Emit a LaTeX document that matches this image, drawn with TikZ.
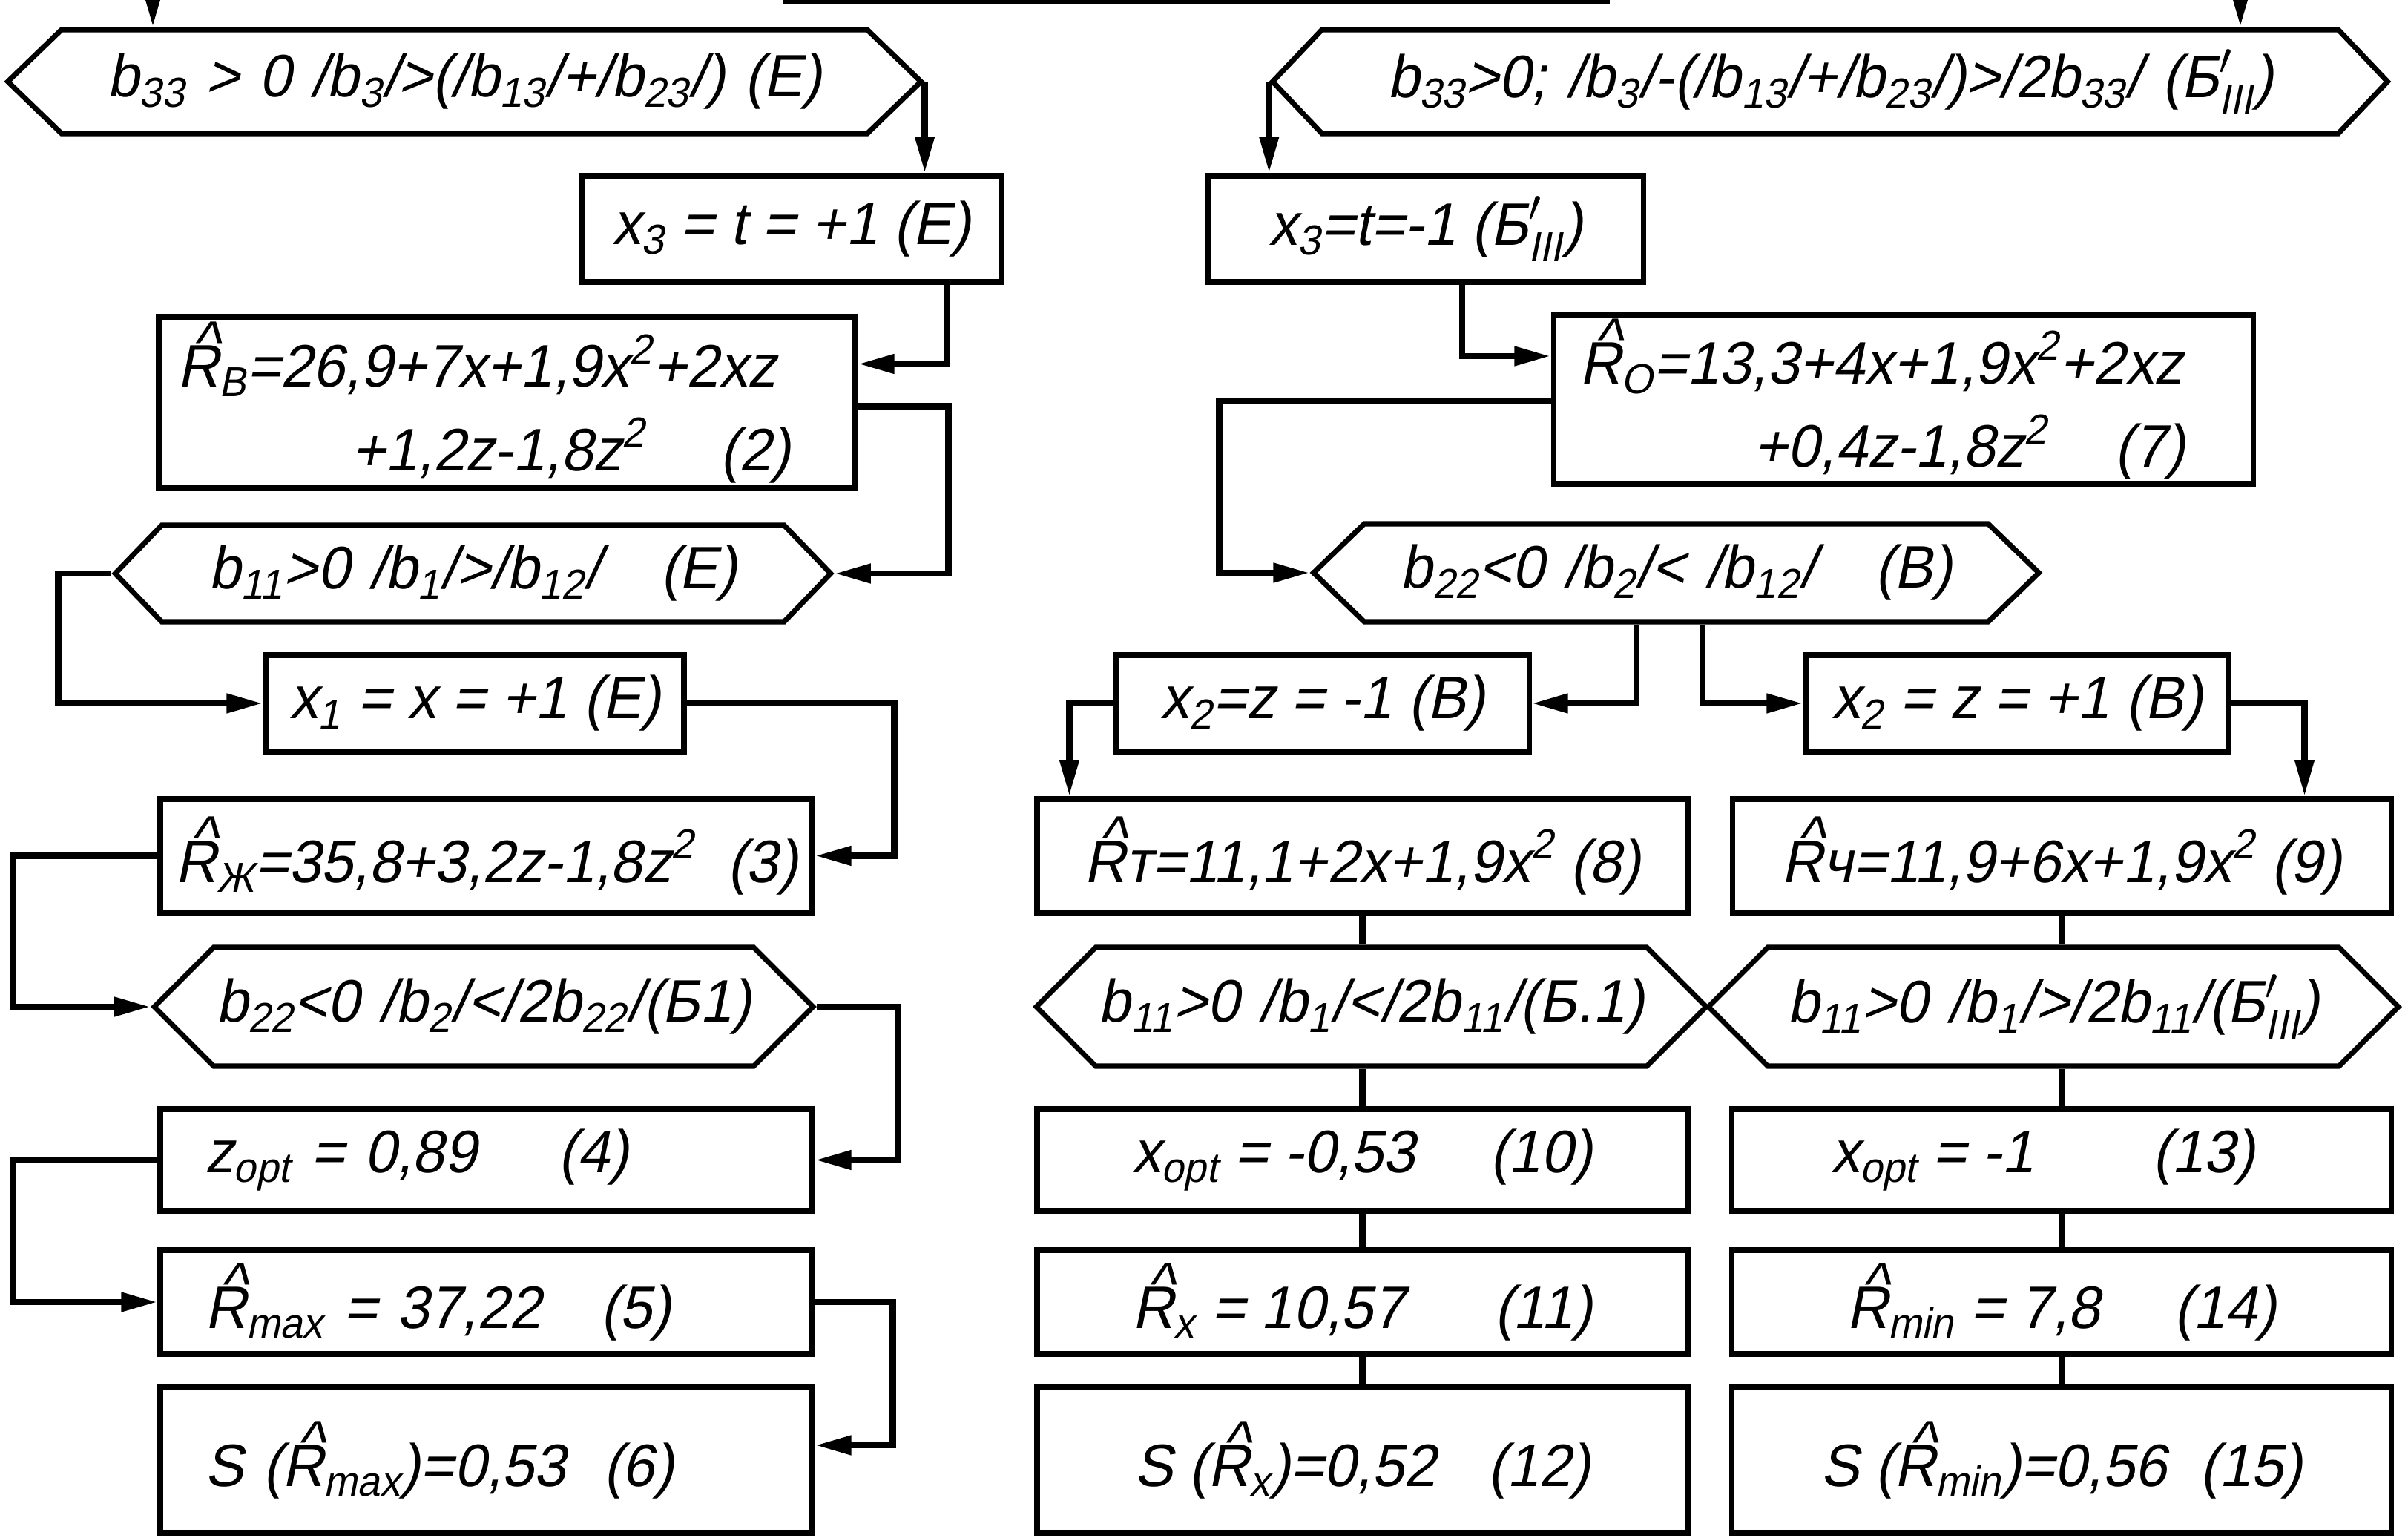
\documentclass[tikz,border=0pt]{standalone}
\usepackage{amsmath}
\usepackage{fontspec}
\setmainfont{Liberation Sans}[ItalicFont={Liberation Sans}, ItalicFeatures={FakeSlant=0.2, FakeStretch=0.96}]
\usetikzlibrary{arrows.meta,shapes.symbols}
\newcommand{\Rh}{\leavevmode\rlap{\hspace{0.24em}\raisebox{0.40em}{\textasciicircum}}R}
\newcommand{\bIII}{Б$^{\prime}_{\text{III}}$}

\begin{document}
\begin{tikzpicture}[
  blk/.style={rectangle, draw, line width=2pt, inner sep=0pt, align=center, font=\fontsize{23}{28}\selectfont\itshape},
  hex/.style={signal, signal to=east and west, draw, line width=2pt, inner sep=0pt, align=center, font=\fontsize{23}{28}\selectfont\itshape},
  arr/.style={-{Triangle[length=14pt,width=7pt]}, line width=2.5pt},
  lnk/.style={line width=2.3pt}
]
\useasboundingbox (0,0) rectangle (32.46,-20.73);
\coordinate (inl) at (2.06,0);
\coordinate (inr) at (30.20,0);
\coordinate (topa) at (10.56,-0.02);
\coordinate (topb) at (21.70,-0.02);

\node[hex, text width=10.86cm, minimum height=1.40cm, signal pointer angle=88] (b33l) at (6.26,-1.10) {\makebox[10.86cm]{b\textsubscript{33} > 0 /b\textsubscript{3}/>(/b\textsubscript{13}/+/b\textsubscript{23}/) (Е)}};
\node[blk, minimum width=5.66cm, minimum height=1.43cm] (x3p) at (10.67,-3.085) {x\textsubscript{3} = t = +1 (Е)};
\node[blk, align=left, text width=8.89cm, minimum width=9.39cm, minimum height=2.31cm] (rv) at (6.835,-5.425) {\Rh\textsubscript{В}=26,9+7x+1,9x\textsuperscript{2}+2xz\\[4pt]\hspace*{2.35cm}+1,2z-1,8z\textsuperscript{2}\hspace{1cm}(2)};
\node[hex, text width=8.39cm, minimum height=1.30cm, signal pointer angle=92] (b11l) at (6.375,-7.73) {\makebox[8.39cm]{b\textsubscript{11}>0 /b\textsubscript{1}/>/b\textsubscript{12}/\hspace{0.8cm}(Е)}};
\node[blk, minimum width=5.64cm, minimum height=1.30cm] (x1p) at (6.40,-9.48) {x\textsubscript{1} = x = +1 (Е)};
\node[blk, minimum width=8.79cm, minimum height=1.53cm] (rzh) at (6.555,-11.535) {\Rh\textsubscript{Ж}=35,8+3,2z-1,8z\textsuperscript{2} \ (3)};
\node[hex, text width=7.28cm, minimum height=1.60cm, signal pointer angle=90] (b22l) at (6.52,-13.57) {\makebox[7.28cm]{b\textsubscript{22}<0 /b\textsubscript{2}/</2b\textsubscript{22}/(Б1)}};
\node[blk, align=left, text width=7.59cm, minimum width=8.79cm, minimum height=1.37cm] (zopt) at (6.555,-15.635) {z\textsubscript{opt} = 0,89\hspace{1.1cm}(4)};
\node[blk, align=left, text width=7.59cm, minimum width=8.79cm, minimum height=1.40cm] (rmax) at (6.555,-17.55) {\Rh\textsubscript{max} = 37,22\hspace{0.8cm}(5)};
\node[blk, align=left, text width=7.59cm, minimum width=8.79cm, minimum height=1.96cm] (srmax) at (6.555,-19.68) {S (\Rh\textsubscript{max})=0,53\hspace{0.5cm}(6)};

\node[hex, text width=13.70cm, minimum height=1.40cm, signal pointer angle=93] (b33r) at (24.67,-1.10) {\makebox[13.70cm]{b\textsubscript{33}>0; /b\textsubscript{3}/-(/b\textsubscript{13}/+/b\textsubscript{23}/)>/2b\textsubscript{33}/ (\bIII)}};
\node[blk, minimum width=5.86cm, minimum height=1.43cm] (x3m) at (19.22,-3.085) {x\textsubscript{3}=t=-1 (\bIII)};
\node[blk, align=left, text width=8.73cm, minimum width=9.43cm, minimum height=2.28cm] (ro) at (25.655,-5.38) {\Rh\textsubscript{О}=13,3+4x+1,9x\textsuperscript{2}+2xz\\[4pt]\hspace*{2.35cm}+0,4z-1,8z\textsuperscript{2}\hspace{0.9cm}(7)};
\node[hex, text width=8.41cm, minimum height=1.32cm, signal pointer angle=88] (b22r) at (22.595,-7.72) {\makebox[8.41cm]{b\textsubscript{22}<0 /b\textsubscript{2}/< /b\textsubscript{12}/\hspace{0.8cm}(В)}};
\node[blk, minimum width=5.56cm, minimum height=1.30cm] (x2m) at (17.83,-9.48) {x\textsubscript{2}=z = -1 (В)};
\node[blk, minimum width=5.70cm, minimum height=1.30cm] (x2p) at (27.19,-9.48) {x\textsubscript{2} = z = +1 (В)};
\node[blk, minimum width=8.77cm, minimum height=1.53cm] (rt) at (18.365,-11.535) {\Rh т=11,1+2x+1,9x\textsuperscript{2} (8)};
\node[blk, minimum width=8.88cm, minimum height=1.53cm] (rch) at (27.79,-11.535) {\Rh ч=11,9+6x+1,9x\textsuperscript{2} (9)};
\node[hex, text width=7.43cm, minimum height=1.60cm, signal pointer angle=90] (b11a) at (18.485,-13.57) {\makebox[7.43cm]{b\textsubscript{11}>0 /b\textsubscript{1}/</2b\textsubscript{11}/(Б.1)}};
\node[hex, text width=7.70cm, minimum height=1.60cm, signal pointer angle=90] (b11b) at (27.68,-13.57) {\makebox[7.70cm]{b\textsubscript{11}>0 /b\textsubscript{1}/>/2b\textsubscript{11}/(\bIII)}};
\node[blk, minimum width=8.77cm, minimum height=1.37cm] (xopta) at (18.365,-15.635) {x\textsubscript{opt} = -0,53\hspace{1cm}(10)};
\node[blk, minimum width=8.89cm, minimum height=1.37cm] (xoptb) at (27.79,-15.635) {x\textsubscript{opt} = -1\hspace{1.6cm}(13)\hspace{0.5cm}};
\node[blk, minimum width=8.77cm, minimum height=1.40cm] (rx) at (18.365,-17.55) {\Rh\textsubscript{x} = 10,57\hspace{1.2cm}(11)};
\node[blk, minimum width=8.89cm, minimum height=1.40cm] (rmin) at (27.79,-17.55) {\Rh\textsubscript{min} = 7,8\hspace{1cm}(14)};
\node[blk, minimum width=8.77cm, minimum height=1.96cm] (srx) at (18.365,-19.68) {S (\Rh\textsubscript{x})=0,52\hspace{0.7cm}(12)};
\node[blk, minimum width=8.89cm, minimum height=1.96cm] (srmin) at (27.79,-19.68) {S (\Rh\textsubscript{min})=0,56\hspace{0.45cm}(15)};

\draw[lnk] (topa) -- (topb);
\draw[arr] (inl) -- (inl |- b33l.north);
\draw[arr] (inr) -- (inr |- b33r.north);
\draw[arr] (b33l.east) -- (b33l.east |- x3p.north);
\draw[arr] ([xshift=2.1cm]x3p.south) |- ([yshift=0.52cm]rv.east);
\draw[arr] ([yshift=-0.05cm]rv.east) -- ++(1.22,0) |- (b11l.east);
\draw[arr] (b11l.west) -- ++(-0.72,0) |- (x1p.west);
\draw[arr] (x1p.east) -- ++(2.8,0) |- (rzh.east);
\draw[arr] (rzh.west) -- ++(-1.95,0) |- (b22l.west);
\draw[arr] (b22l.east) -- ++(1.09,0) |- (zopt.east);
\draw[arr] (zopt.west) -- ++(-1.95,0) |- (rmax.west);
\draw[arr] (rmax.east) -- ++(1.05,0) |- ([yshift=0.2cm]srmax.east);

\draw[arr] (b33r.west) -- (b33r.west |- x3m.north);
\draw[arr] ([xshift=0.49cm]x3m.south) |- ([yshift=0.58cm]ro.west);
\draw[arr] ([yshift=-0.02cm]ro.west) -- ++(-4.47,0) |- (b22r.west);
\draw[arr] ([xshift=-0.535cm]b22r.south) |- (x2m.east);
\draw[arr] ([xshift=0.355cm]b22r.south) |- (x2p.west);
\draw[arr] (x2m.west) -| ([xshift=0.47cm]rt.north west);
\draw[arr] (x2p.east) -| ([xshift=-1.2cm]rch.north east);
\draw[lnk] (rt.south) -- (rt.south |- b11a.north);
\draw[lnk] (xopta.north) -- (xopta.north |- b11a.south);
\draw[lnk] (xopta.south) -- (rx.north);
\draw[lnk] (rx.south) -- (srx.north);
\draw[lnk] (rch.south) -- (rch.south |- b11b.north);
\draw[lnk] (xoptb.north) -- (xoptb.north |- b11b.south);
\draw[lnk] (xoptb.south) -- (rmin.north);
\draw[lnk] (rmin.south) -- (srmin.north);
\end{tikzpicture}
\end{document}
